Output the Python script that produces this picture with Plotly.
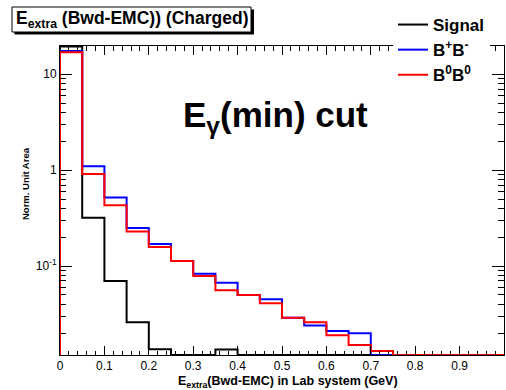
import plotly.graph_objects as go

# ---------------- data ----------------
bin_edges = [0.00, 0.05, 0.10, 0.15, 0.20, 0.25, 0.30, 0.35, 0.40, 0.45, 0.50,
             0.55, 0.60, 0.65, 0.70, 0.75, 0.80, 0.85, 0.90, 0.95, 1.00]

signal = [19.5, 0.32, 0.070, 0.026, 0.0136, 0.0, 0.0, 0.0135, 0.0, 0.0,
          0.0, 0.0, 0.0, 0.0, 0.0, 0.0, 0.0, 0.0, 0.0, 0.0]
bpbm = [17.5, 1.10, 0.52, 0.25, 0.170, 0.113, 0.083, 0.067, 0.050, 0.045,
        0.029, 0.024, 0.021, 0.020, 0.0, 0.0, 0.0, 0.0, 0.0, 0.0]
b0b0 = [17.0, 0.91, 0.43, 0.23, 0.158, 0.113, 0.079, 0.056, 0.050, 0.041,
        0.029, 0.026, 0.019, 0.015, 0.013, 0.0, 0.0, 0.0, 0.0, 0.0]

series_names = ["<b>Signal</b>", "<b>B<sup>+</sup>B<sup>-</sup></b>",
                "<b>B<sup>0</sup>B<sup>0</sup></b>"]
series_colors = ["black", "#0000ff", "#ff0000"]

x_ticks = [0, 0.1, 0.2, 0.3, 0.4, 0.5, 0.6, 0.7, 0.8, 0.9, 1]
y_ticks = [0.1, 1, 10]
y_ticktext = ["10<sup>-1</sup>", "1", "10"]
y_minor = [m * d for d in (0.01, 0.1, 1, 10) for m in range(2, 10)]

# ---------------- layout geometry ----------------
W, H = 506, 390
L, R, T, B = 60, 2, 46, 35
PW, PH = W - L - R, H - T - B
ylog_min, ylog_max = -1.927, 1.295
y_floor = 10 ** ylog_min
FONT = "Liberation Sans, Arial, Helvetica, sans-serif"


def px(xp):
    return (xp - L) / PW


def py(yp):
    return (H - B - yp) / PH


fig = go.Figure()
for name, vals, col in zip(series_names, [signal, bpbm, b0b0], series_colors):
    drawn = [max(v, y_floor) for v in vals]
    fig.add_trace(go.Scatter(
        x=[bin_edges[0]] + bin_edges + [bin_edges[-1]],
        y=[y_floor] + drawn + [drawn[-1], y_floor],
        mode="lines", line=dict(color=col, width=2, shape="hv"),
        name=name, hoverinfo="skip",
    ))

fig.update_layout(
    width=W, height=H,
    margin=dict(l=L, r=R, t=T, b=B, pad=0),
    paper_bgcolor="white", plot_bgcolor="white",
    font=dict(family=FONT, color="black", size=12),
    showlegend=True,
    legend=dict(
        x=px(393), y=py(7), xanchor="left", yanchor="top",
        bgcolor="white", borderwidth=0,
        font=dict(family=FONT, size=17, color="black"),
        itemwidth=30, tracegroupgap=0,
    ),
    xaxis=dict(
        range=[0, 1], tickmode="array", tickvals=x_ticks,
        ticks="inside", ticklen=9, tickwidth=1, tickcolor="black",
        minor=dict(dtick=0.02, ticks="inside", ticklen=4.5, tickcolor="black"),
        showline=True, linecolor="black", linewidth=1, mirror="allticks",
        showgrid=False, zeroline=False,
        tickfont=dict(size=12, family=FONT),
    ),
    yaxis=dict(
        type="log", range=[ylog_min, ylog_max],
        tickmode="array", tickvals=y_ticks, ticktext=y_ticktext,
        ticks="inside", ticklen=12, tickwidth=1, tickcolor="black",
        minor=dict(tickmode="array", tickvals=y_minor, ticks="inside",
                   ticklen=6, tickcolor="black"),
        showline=True, linecolor="black", linewidth=1, mirror="allticks",
        showgrid=False, zeroline=False,
        tickfont=dict(size=12, family=FONT),
    ),
)

# title box with shadow (ROOT style)
fig.add_shape(type="rect", xref="paper", yref="paper",
              x0=px(14.5), x1=px(254), y0=py(34.5), y1=py(9.5),
              fillcolor="black", line=dict(width=0), layer="above")
fig.add_shape(type="rect", xref="paper", yref="paper",
              x0=px(12), x1=px(251), y0=py(32), y1=py(7),
              fillcolor="white", line=dict(color="black", width=1), layer="above")
fig.add_annotation(xref="paper", yref="paper", x=px(14), y=py(20),
                   xanchor="left", yanchor="middle", showarrow=False,
                   text="<b>E<sub>extra</sub> (Bwd-EMC)) (Charged)</b>",
                   font=dict(family=FONT, size=17.5, color="black"))

# big label
fig.add_annotation(xref="paper", yref="paper", x=px(181), y=py(117),
                   xanchor="left", yanchor="middle", showarrow=False,
                   text="<b>E<sub>γ</sub>(min) cut</b>",
                   font=dict(family=FONT, size=35, color="black"))

# axis titles
fig.add_annotation(xref="paper", yref="paper", x=px(400), y=py(382),
                   xanchor="right", yanchor="middle", showarrow=False,
                   text="<b>E<sub>extra</sub>(Bwd-EMC) in Lab system (GeV)</b>",
                   font=dict(family=FONT, size=12.5, color="black"))
fig.add_annotation(xref="paper", yref="paper", x=px(25), y=py(184),
                   xanchor="center", yanchor="middle", showarrow=False,
                   textangle=-90, text="<b>Norm. Unit Area</b>",
                   font=dict(family=FONT, size=9.5, color="black"))

fig.write_html("out.html")
